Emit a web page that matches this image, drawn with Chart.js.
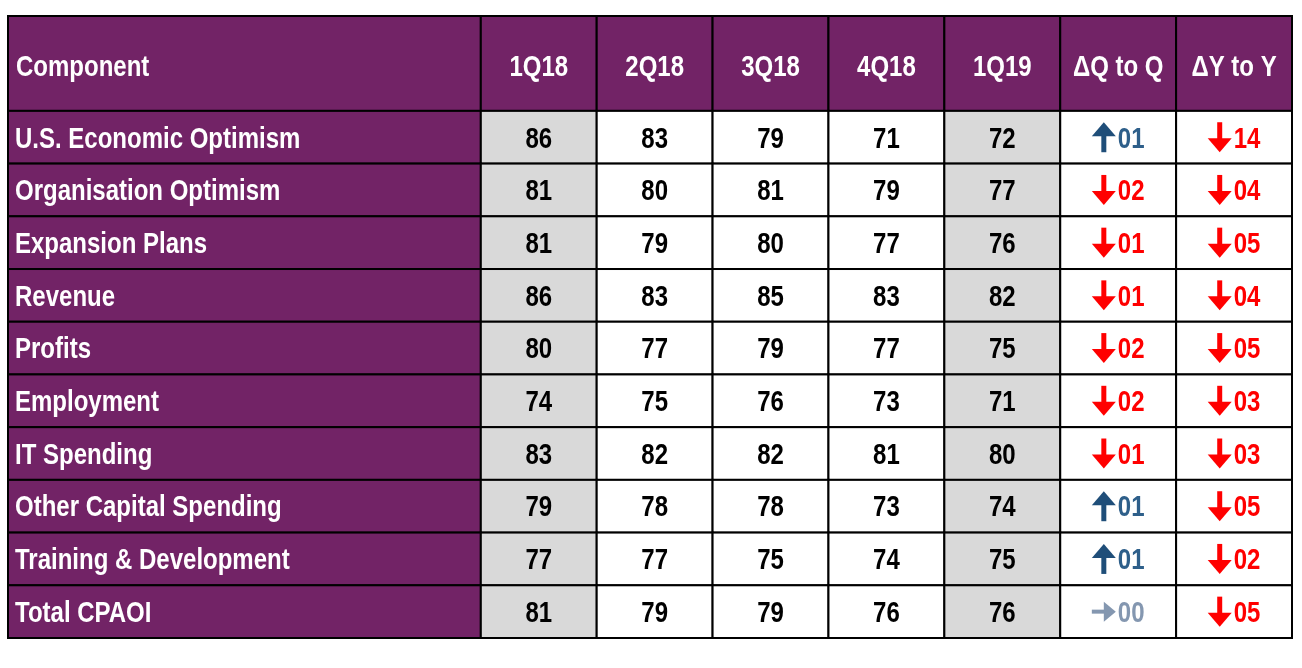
<!DOCTYPE html>
<html>
<head>
<meta charset="utf-8">
<script src="https://cdn.jsdelivr.net/npm/chart.js@4"></script>
<style>
  body { margin: 0; background: #fff; }
  #wrap { width: 1302px; height: 668px; }
</style>
</head>
<body>
<div id="wrap"><canvas id="tabla"></canvas></div>
<script>
const components = ['U.S. Economic Optimism', 'Organisation Optimism', 'Expansion Plans', 'Revenue', 'Profits',
    'Employment', 'IT Spending', 'Other Capital Spending', 'Training & Development', 'Total CPAOI'];
const quarters = ['1Q18', '2Q18', '3Q18', '4Q18', '1Q19'];
const q1Q18 = [86, 81, 81, 86, 80, 74, 83, 79, 77, 81];
const q2Q18 = [83, 80, 79, 83, 77, 75, 82, 78, 77, 79];
const q3Q18 = [79, 81, 80, 85, 79, 76, 82, 78, 75, 79];
const q4Q18 = [71, 79, 77, 83, 77, 73, 81, 73, 74, 76];
const q1Q19 = [72, 77, 76, 82, 75, 71, 80, 74, 75, 76];
const deltaQ = [1, -2, -1, -1, -2, -2, -1, 1, 1, 0];
const deltaY = [-14, -4, -5, -4, -5, -3, -3, -5, -2, -5];

const series = [q1Q18, q2Q18, q3Q18, q4Q18, q1Q19];
const PURPLE = '#722366';
const FONT = 'bold 30px "Liberation Sans", sans-serif';
const SQUEEZE = 0.8;

// ancho de columnas en unidades de la escala x
const compW = 4.08;
const headH = 1.8;
const colStart = i => compW + i;

// texto estrechado para imitar Calibri
function text(ctx, s, px, py, align, color) {
    ctx.save();
    ctx.font = FONT;
    ctx.fillStyle = color;
    const w = ctx.measureText(s).width * SQUEEZE;
    let left = px;
    if (align === 'center') left = px - w / 2;
    ctx.translate(left, py);
    ctx.scale(SQUEEZE, 1);
    ctx.textAlign = 'left';
    ctx.textBaseline = 'middle';
    ctx.fillText(s, 0, 0);
    ctx.restore();
    return w;
}

function arrow(ctx, dir, x0, cy, color) {
    ctx.save();
    ctx.fillStyle = color;
    ctx.strokeStyle = color;
    ctx.lineWidth = 5;
    ctx.beginPath();
    if (dir === 'down') {
        ctx.moveTo(x0 + 12, cy - 15); ctx.lineTo(x0 + 12, cy + 4); ctx.stroke();
        ctx.beginPath(); ctx.moveTo(x0, cy + 1); ctx.lineTo(x0 + 24, cy + 1); ctx.lineTo(x0 + 12, cy + 15);
    } else if (dir === 'up') {
        ctx.moveTo(x0 + 12, cy + 15); ctx.lineTo(x0 + 12, cy - 4); ctx.stroke();
        ctx.beginPath(); ctx.moveTo(x0, cy - 1); ctx.lineTo(x0 + 24, cy - 1); ctx.lineTo(x0 + 12, cy - 15);
    } else {
        ctx.lineWidth = 4;
        ctx.moveTo(x0, cy); ctx.lineTo(x0 + 16, cy); ctx.stroke();
        ctx.beginPath(); ctx.moveTo(x0 + 12, cy - 10); ctx.lineTo(x0 + 24, cy); ctx.lineTo(x0 + 12, cy + 10);
    }
    ctx.closePath();
    ctx.fill();
    ctx.restore();
}

const tablePlugin = {
    id: 'tabla',
    beforeDatasetsDraw(chart) {
        const { ctx, scales: { x, y } } = chart;
        const rect = (x0, y0, x1, y1, fill) => {
            const px0 = x.getPixelForValue(x0), px1 = x.getPixelForValue(x1);
            const py0 = y.getPixelForValue(y0), py1 = y.getPixelForValue(y1);
            ctx.fillStyle = fill;
            ctx.fillRect(px0, py0, px1 - px0, py1 - py0);
            ctx.strokeStyle = '#000';
            ctx.lineWidth = 2;
            ctx.strokeRect(px0, py0, px1 - px0, py1 - py0);
            return { cx: (px0 + px1) / 2, cy: (py0 + py1) / 2, left: px0 };
        };

        let c = rect(0, 0, compW, headH, PURPLE);
        text(ctx, 'Component', c.left + 8, c.cy + 4, 'left', '#fff');
        quarters.concat(['ΔQ to Q', 'ΔY to Y']).forEach((h, i) => {
            c = rect(colStart(i), 0, colStart(i + 1), headH, PURPLE);
            text(ctx, h, c.cx, c.cy + 4, 'center', '#fff');
        });

        const drawDelta = (v, cell) => {
            let dir = 'down', ac = '#ff0000', nc = '#ff0000';
            if (v > 0) { dir = 'up'; ac = '#1f4e79'; nc = '#2e5f8a'; }
            if (v === 0) { dir = 'flat'; ac = nc = '#8497b0'; }
            const num = String(Math.abs(v)).padStart(2, '0');
            ctx.font = FONT;
            const nw = ctx.measureText(num).width * SQUEEZE;
            const start = cell.cx - (26 + nw) / 2;
            arrow(ctx, dir, start, cell.cy, ac);
            text(ctx, num, start + 26, cell.cy + 2, 'left', nc);
        };

        components.forEach((name, r) => {
            const y0 = headH + r, y1 = headH + r + 1;
            c = rect(0, y0, compW, y1, PURPLE);
            text(ctx, name, c.left + 7, c.cy + 2, 'left', '#fff');
            series.forEach((s, i) => {
                const grey = i === 0 || i === 4;
                c = rect(colStart(i), y0, colStart(i + 1), y1, grey ? '#d9d9d9' : '#fff');
                text(ctx, String(s[r]), c.cx, c.cy + 2, 'center', '#000');
            });
            drawDelta(deltaQ[r], rect(colStart(5), y0, colStart(6), y1, '#fff'));
            drawDelta(deltaY[r], rect(colStart(6), y0, colStart(7), y1, '#fff'));
        });
    }
};

new Chart(document.getElementById('tabla'), {
    type: 'bar',
    data: { labels: [], datasets: [{ data: [] }] },
    options: {
        responsive: true,
        maintainAspectRatio: false,
        animation: false,
        layout: { padding: { left: 8, right: 10, top: 16, bottom: 30 } },
        plugins: { legend: { display: false }, tooltip: { enabled: false } },
        scales: {
            x: { type: 'linear', min: 0, max: compW + 7, offset: false, display: false },
            y: { type: 'linear', min: 0, max: headH + components.length, reverse: true, offset: false, display: false }
        }
    },
    plugins: [tablePlugin]
});
</script>
</body>
</html>
